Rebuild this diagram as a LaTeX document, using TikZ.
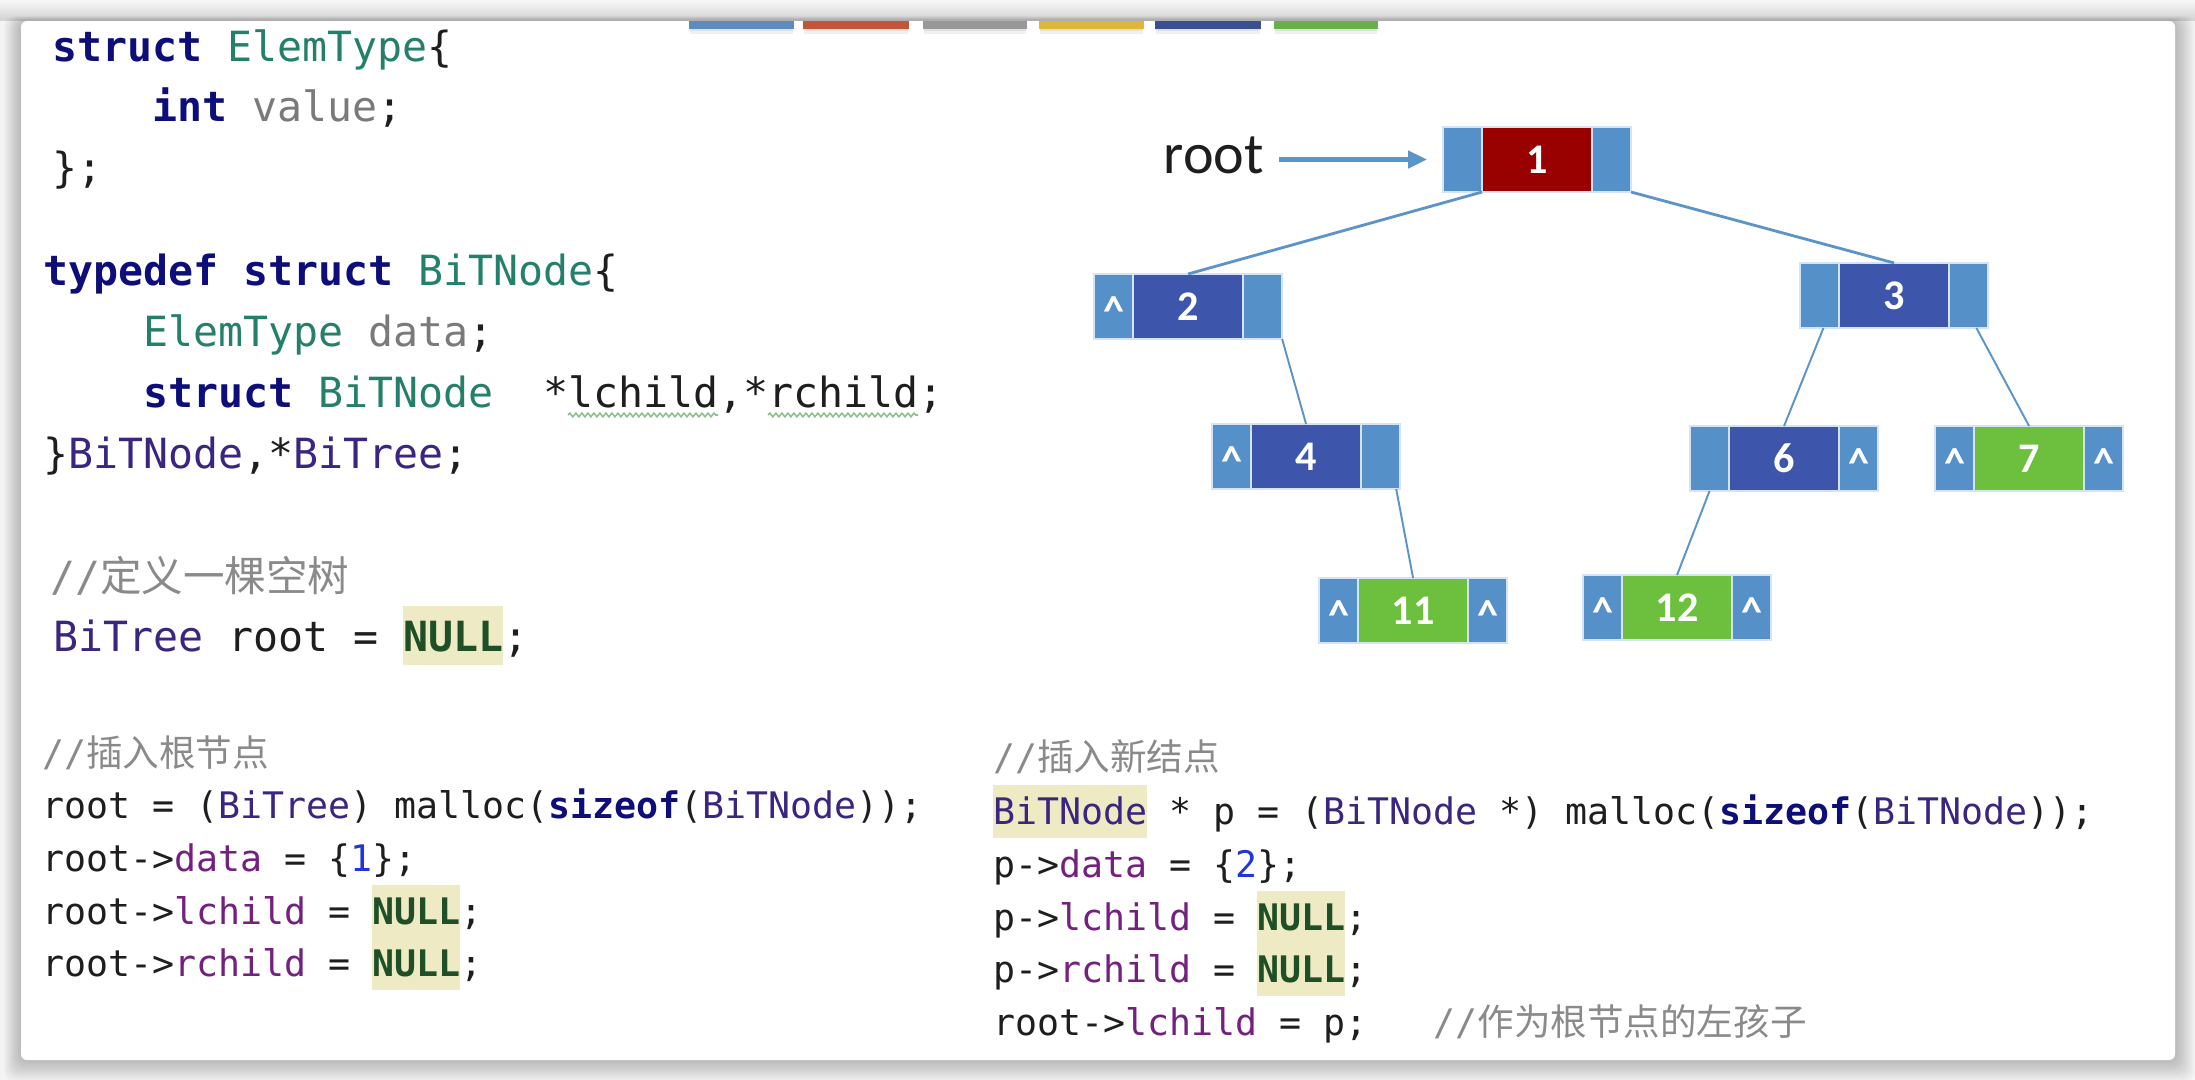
\documentclass[tikz,border=0pt]{standalone}
\usepackage{fontspec}
\setmonofont{DejaVu Sans Mono}
\newfontfamily\cjkfont{Noto Sans CJK SC}
\newfontfamily\calfont{Carlito}
\usetikzlibrary{arrows.meta,calc,decorations.pathmorphing}

% editor palette
\definecolor{ckw}{HTML}{0E0E7A}
\definecolor{cty}{HTML}{24806A}
\definecolor{cgr}{HTML}{7A7A7A}
\definecolor{ctd}{HTML}{3A2580}
\definecolor{cfld}{HTML}{74207E}
\definecolor{cnum}{HTML}{2036D8}
\definecolor{cnull}{HTML}{1E4F26}
\definecolor{chl}{HTML}{EEEAC4}
\definecolor{ccom}{HTML}{8A8A8A}
\definecolor{ctxt}{HTML}{1E1E1E}
\definecolor{cwave}{HTML}{8CC08C}
% tree palette
\definecolor{cptr}{HTML}{5590C8}
\definecolor{cblue}{HTML}{3D56AB}
\definecolor{cred}{HTML}{990000}
\definecolor{cgreen}{HTML}{6CC03D}
\definecolor{cbord}{HTML}{D4E4F4}
\definecolor{cedge}{HTML}{5C94CA}
% page
\definecolor{cbg}{HTML}{F4F4F4}
\definecolor{tabA}{HTML}{5F8CC0}
\definecolor{tabB}{HTML}{C4553A}
\definecolor{tabC}{HTML}{989898}
\definecolor{tabD}{HTML}{DDB63A}
\definecolor{tabE}{HTML}{3D4F93}
\definecolor{tabF}{HTML}{6AB04A}

% syntax colouring helpers
\newcommand\kwd[1]{{\bfseries\color{ckw}#1}}
\newcommand\tyn[1]{{\color{cty}#1}}
\newcommand\tdn[1]{{\color{ctd}#1}}
\newcommand\fldn[1]{{\color{cfld}#1}}
\newcommand\grn[1]{{\color{cgr}#1}}
\newcommand\numb[1]{{\color{cnum}#1}}
\newcommand\hlbox[3]{{\setlength\fboxsep{0pt}\colorbox{chl}{\rule[-#2]{0pt}{\dimexpr#1+#2\relax}#3}}}
\newcommand\nullB{\hlbox{0.39cm}{0.14cm}{\bfseries\color{cnull}NULL}}
\newcommand\nullT{\hlbox{0.46cm}{0.13cm}{\bfseries\color{cnull}NULL}}
\newcommand\cmt[1]{{\color{ccom}//\cjkfont #1}}
\newcommand\bigcode{\ttfamily\fontsize{11.82pt}{14pt}\selectfont}
\newcommand\smallcode{\ttfamily\fontsize{10.40pt}{12pt}\selectfont}

% one tree node: pointer | data | pointer
% #1 name, #2 x, #3 y (top left), #4 data colour, #5 value, #6/#7 left/right caret
\newcommand\bnode[7]{%
  \node[ptrbox] (#1l) at (#2,#3) {};
  \node[databox, fill=#4] (#1d) at (#1l.north east) {#5};
  \node[ptrbox] (#1r) at (#1d.north east) {};
  \ifnum#6=1 \node[caret] at (#1l.center) {\textasciicircum};\fi
  \ifnum#7=1 \node[caret] at (#1r.center) {\textasciicircum};\fi
}

\begin{document}
\begin{tikzpicture}[x=0.01cm,y=-0.01cm,
  code/.style={anchor=base west, inner sep=0pt, outer sep=0pt, text=ctxt, font=\bigcode},
  codes/.style={code, font=\smallcode},
  ptrbox/.style={draw=cbord, fill=cptr, line width=0.5pt, minimum width=0.39cm,
    minimum height=0.65cm, inner sep=0pt, outer sep=0pt, anchor=north west},
  databox/.style={ptrbox, minimum width=1.10cm, text=white,
    font=\calfont\bfseries\fontsize{12pt}{14pt}\selectfont},
  caret/.style={inner sep=0pt, text=white, yshift=-0.05cm,
    font=\calfont\bfseries\fontsize{12pt}{14pt}\selectfont},
  edge/.style={draw=cedge, line width=0.55pt},
  edgeT/.style={draw=cedge, line width=0.8pt},
  rootarrow/.style={draw=cedge, line width=1.3pt, -{Triangle[length=0.19cm,width=0.17cm]}}
]
\useasboundingbox (0,0) rectangle (2195,1080);

% page background, top bar and card shadow
\fill[cbg] (0,0) rectangle (2195,1080);
\shade[top color=white!97!black, bottom color=white!82!black] (0,0) rectangle (2195,21);
\foreach \s in {1,...,12}
  \fill[black, opacity=0.018, rounded corners=0.1cm]
    (21-\s*1.4,21-\s*0.4) rectangle (2175+\s*1.6,1060+\s*1.8);
\fill[white, rounded corners=0.06cm] (21,21) rectangle (2175,1060);

% colour tabs hanging from the top bar
\foreach \xa/\xb/\c in {689/794/tabA,803/909/tabB,923/1027/tabC,1039/1144/tabD,1155/1261/tabE,1274/1378/tabF}{
  \fill[black, opacity=0.06] (\xa+1,29) rectangle (\xb-1,34);
  \fill[black, opacity=0.06] (\xa+1,29) rectangle (\xb-1,31.5);
  \fill[\c] (\xa,21) rectangle (\xb,29);
}

% ---- type declarations ----
\node[code] (l1) at (52,62)  {\kwd{struct} \tyn{ElemType}\{};
\node[code] (l2) at (152,122) {\kwd{int} \grn{value};};
\node[code] (l3) at (52,183) {\};};
\node[code] (l4) at (43,286) {\kwd{typedef} \kwd{struct} \tyn{BiTNode}\{};
\node[code] (l5) at (143,347) {\tyn{ElemType} \grn{data};};
\node[code] (l6) at (143,408) {\kwd{struct} \tyn{BiTNode}~~*lchild,*rchild;};
\node[code] (l7) at (43,469) {\}\tdn{BiTNode},*\tdn{BiTree};};
\draw[cwave, line width=0.45pt, decorate, decoration={snake, amplitude=0.018cm, segment length=0.06cm}]
  (568,415) -- (718,415);
\draw[cwave, line width=0.45pt, decorate, decoration={snake, amplitude=0.018cm, segment length=0.06cm}]
  (768,415) -- (918,415);

% ---- empty tree ----
\node[code] (l8) at (50,592) {\cmt{定义一棵空树}};
\node[code] (l9) at (53,652) {\tdn{BiTree} root = \nullT;};

% ---- insert root ----
\node[codes] (a1) at (42,766) {\cmt{插入根节点}};
\node[codes] (a2) at (42,818) {root = (\tdn{BiTree}) malloc(\kwd{sizeof}(\tdn{BiTNode}));};
\node[codes] (a3) at (42,871) {root->\fldn{data} = \{\numb{1}\};};
\node[codes] (a4) at (42,924) {root->\fldn{lchild} = \nullB;};
\node[codes] (a5) at (42,976) {root->\fldn{rchild} = \nullB;};

% ---- insert a new node ----
\node[codes] (b1) at (993,771) {\cmt{插入新结点}};
\node[codes] (b2) at (993,824) {\hlbox{0.39cm}{0.14cm}{\tdn{BiTNode}} * p = (\tdn{BiTNode} *) malloc(\kwd{sizeof}(\tdn{BiTNode}));};
\node[codes] (b3) at (993,877) {p->\fldn{data} = \{\numb{2}\};};
\node[codes] (b4) at (993,930) {p->\fldn{lchild} = \nullB;};
\node[codes] (b5) at (993,982) {p->\fldn{rchild} = \nullB;};
\node[codes] (b6) at (993,1035) {root->\fldn{lchild} = p;~~~\cmt{作为根节点的左孩子}};

% ---- binary tree ----
\bnode{n1}{1443}{127}{cred}{1}{0}{0}
\bnode{n2}{1094}{274}{cblue}{2}{1}{0}
\bnode{n3}{1800}{263}{cblue}{3}{0}{0}
\bnode{n4}{1212}{424}{cblue}{4}{1}{0}
\bnode{n6}{1690}{426}{cblue}{6}{0}{1}
\bnode{n7}{1935}{426}{cgreen}{7}{1}{1}
\bnode{n11}{1319}{578}{cgreen}{11}{1}{1}
\bnode{n12}{1583}{575}{cgreen}{12}{1}{1}

\node[anchor=base west, inner sep=0pt, text=ctxt, font=\calfont\fontsize{16.5pt}{18pt}\selectfont]
  (rootlbl) at (1163,174) {root};
\draw[rootarrow, shorten <=0.15cm, shorten >=0.16cm] (rootlbl.east |- n1l.west) -- (n1l.west);

\draw[edgeT] (n1l.south east) -- (n2d.north);
\draw[edgeT] (n1r.south east) -- (n3d.north);
\draw[edge] (n2r.south east) -- (n4d.north);
\draw[edge] ($(n4r.south west)!0.9!(n4r.south east)$) -- (n11d.north);
\draw[edge] ($(n3l.south west)!0.6!(n3l.south east)$) -- (n6d.north);
\draw[edge] ($(n3r.south west)!0.7!(n3r.south east)$) -- (n7d.north);
\draw[edge] (n6l.south) -- (n12d.north);
\end{tikzpicture}
\end{document}
